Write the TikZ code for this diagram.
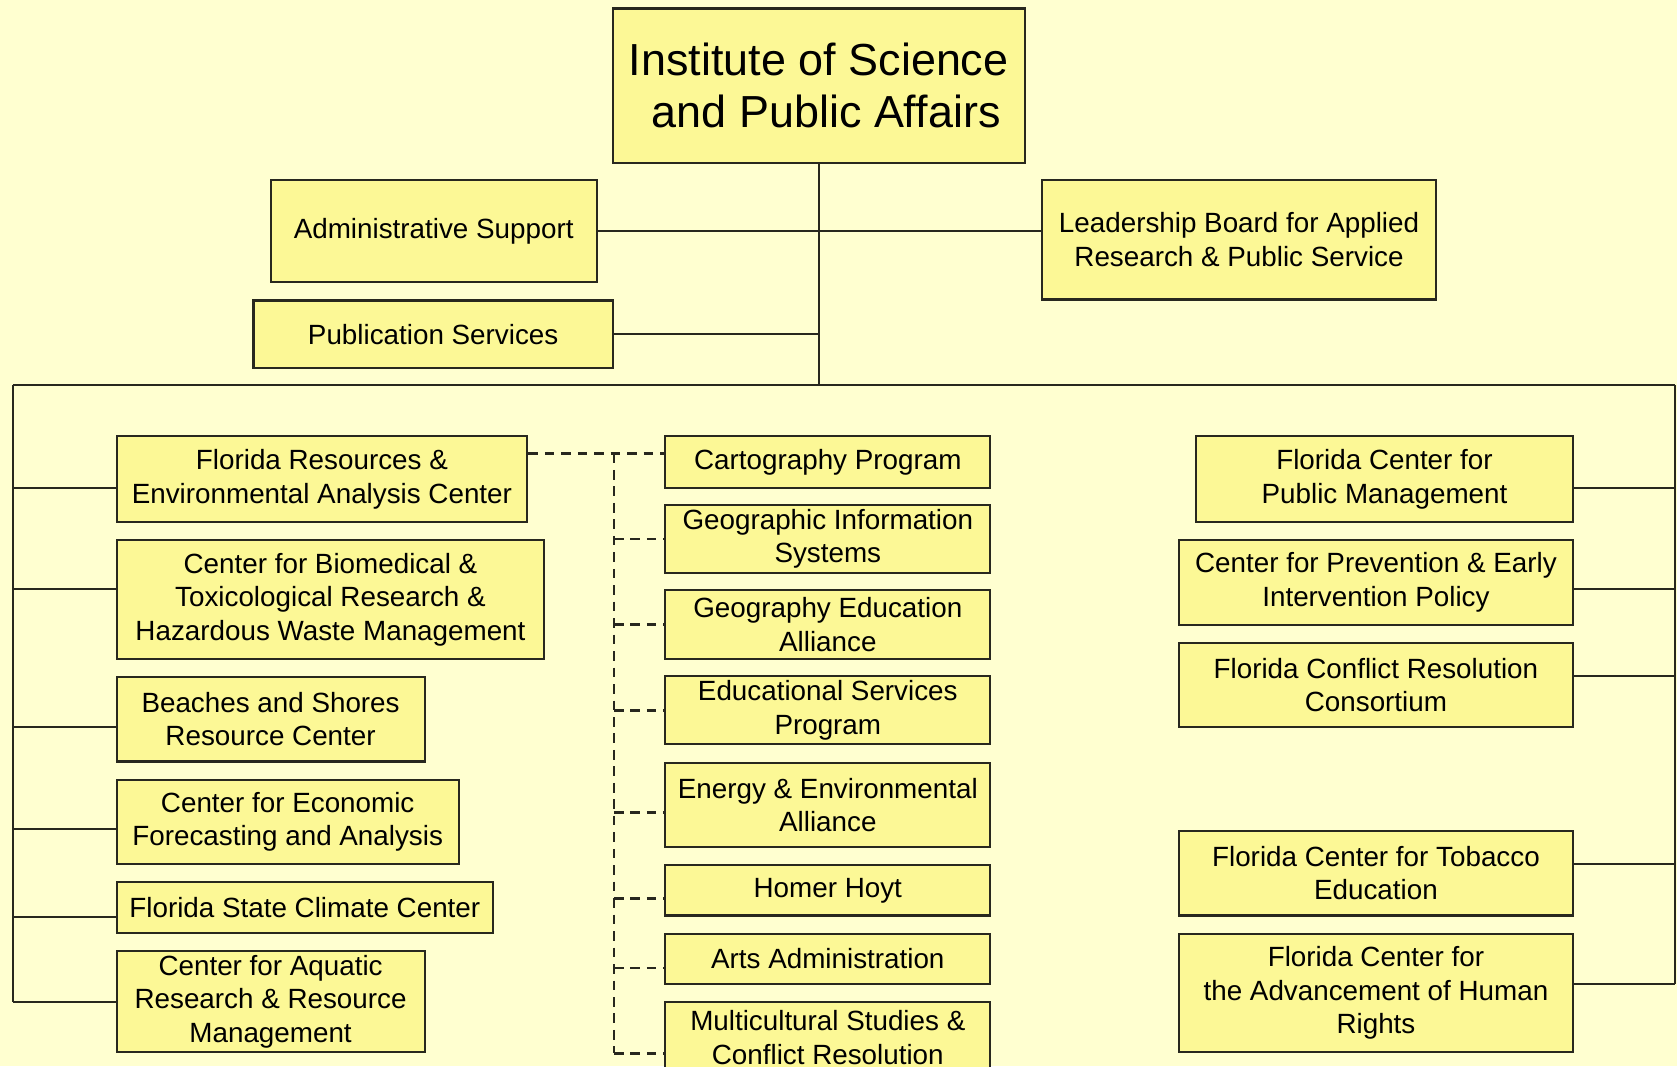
\documentclass[tikz,border=0pt]{standalone}
\usepackage{fontspec}
\setmainfont{Liberation Sans}
\definecolor{bg}{RGB}{255,255,208}
\definecolor{boxfill}{RGB}{252,248,150}
\definecolor{edge}{RGB}{40,40,30}
\tikzset{
  box/.style={draw=edge, line width=1pt, fill=boxfill, inner sep=0pt, align=center,
              font=\fontsize{13}{15.6}\selectfont},
  titlebox/.style={box, font=\fontsize{21}{24}\selectfont},
  link/.style={draw=edge, line width=0.9pt},
  dlink/.style={draw=edge, line width=1.3pt, dash pattern=on 4.5pt off 3.2pt},
}
\newcommand{\obox}[7][]{%
  \node[box,#1,minimum width={(#5-#3)*0.5pt},minimum height={(#6-#4)*0.5pt}]
    (#2) at ({(#3+#5)/2},{(#4+#6)/2}) {#7};}
\begin{document}
\begin{tikzpicture}[x=0.5pt,y=-0.5pt]
\fill[bg] (0,0) rectangle (1568,997);
\useasboundingbox (0,0) rectangle (1568,997);
\clip (0,0) rectangle (1568,997);

% top level
\obox[titlebox]{top}{573}{8}{958}{152}{Institute of Science\\\hspace*{7pt}and Public Affairs}
\obox{admin}{253}{168}{558}{264}{Administrative Support}
\obox{lead}{974}{168}{1343}{280}{Leadership Board for Applied\\Research \& Public Service}
\obox{pub}{237}{281}{573}{344}{Publication Services}

% left column
\obox{frea}{109}{408}{493}{488}{Florida Resources \&\\Environmental Analysis Center}
\obox{biomed}{109}{505}{509}{616}{Center for Biomedical \&\\Toxicological Research \&\\Hazardous Waste Management}
\obox{beach}{109}{633}{397}{712}{Beaches and Shores\\Resource Center}
\obox{econ}{109}{729}{429}{808}{Center for Economic\\Forecasting and Analysis}
\obox{climate}{109}{825}{461}{872}{Florida State Climate Center}
\obox{aquatic}{109}{889}{397}{984}{Center for Aquatic\\Research \& Resource\\Management}

% middle column
\obox{carto}{622}{408}{926}{456}{Cartography Program}
\obox{gis}{622}{472}{926}{536}{Geographic Information\\Systems}
\obox{geoedu}{622}{552}{926}{616}{Geography Education\\Alliance}
\obox{eduserv}{622}{632}{926}{696}{Educational Services\\Program}
\obox{energy}{622}{713}{926}{792}{Energy \& Environmental\\Alliance}
\obox{homer}{622}{809}{926}{856}{Homer Hoyt}
\obox{arts}{622}{873}{926}{920}{Arts Administration}
\obox{multi}{622}{937}{926}{1003}{Multicultural Studies \&\\Conflict Resolution}

% right column
\obox{pubman}{1118}{408}{1471}{488}{Florida Center for\\Public Management}
\obox{prev}{1102}{505}{1471}{584}{Center for Prevention \& Early\\Intervention Policy}
\obox{conflict}{1102}{601}{1471}{680}{Florida Conflict Resolution\\Consortium}
\obox{tobacco}{1102}{777}{1471}{856}{Florida Center for Tobacco\\Education}
\obox{human}{1102}{873}{1471}{984}{Florida Center for\\the Advancement of Human\\Rights}

% trunk and bus
\coordinate (busL) at (12,360);
\coordinate (busR) at (1566,360);
\coordinate (lend) at (12,937);
\coordinate (rend) at (1566,920);
\coordinate (dtop) at (574,424);
\coordinate (dend) at (574,985);

\draw[link] (top.south) -- (top.south |- busL);
\draw[link] (admin.east |- 0,216) -- (lead.west |- 0,216);
\draw[link] (pub.east |- 0,312) -- (top.south |- 0,312);
\draw[link] (busL) -- (busR);
\draw[link] (busL) -- (lend);
\draw[link] (busR) -- (rend);

% left connectors
\draw[link] (busL |- 0,456) -- (frea.west |- 0,456);
\draw[link] (busL |- 0,551) -- (biomed.west |- 0,551);
\draw[link] (busL |- 0,680) -- (beach.west |- 0,680);
\draw[link] (busL |- 0,775) -- (econ.west |- 0,775);
\draw[link] (busL |- 0,857) -- (climate.west |- 0,857);
\draw[link] (lend) -- (aquatic.west |- lend);

% right connectors
\draw[link] (pubman.east |- 0,456) -- (busR |- 0,456);
\draw[link] (prev.east |- 0,551) -- (busR |- 0,551);
\draw[link] (conflict.east |- 0,632) -- (busR |- 0,632);
\draw[link] (tobacco.east |- 0,808) -- (busR |- 0,808);
\draw[link] (human.east |- rend) -- (rend);

% dashed links
\draw[dlink] (frea.east |- dtop) -- (carto.west |- dtop);
\draw[dlink] (dtop) -- (dend);
\draw[dlink] (dtop |- 0,504) -- (gis.west |- 0,504);
\draw[dlink] (dtop |- 0,584) -- (geoedu.west |- 0,584);
\draw[dlink] (dtop |- 0,664) -- (eduserv.west |- 0,664);
\draw[dlink] (dtop |- 0,760) -- (energy.west |- 0,760);
\draw[dlink] (dtop |- 0,840) -- (homer.west |- 0,840);
\draw[dlink] (dtop |- 0,905) -- (arts.west |- 0,905);
\draw[dlink] (dend) -- (multi.west |- dend);
\end{tikzpicture}
\end{document}
